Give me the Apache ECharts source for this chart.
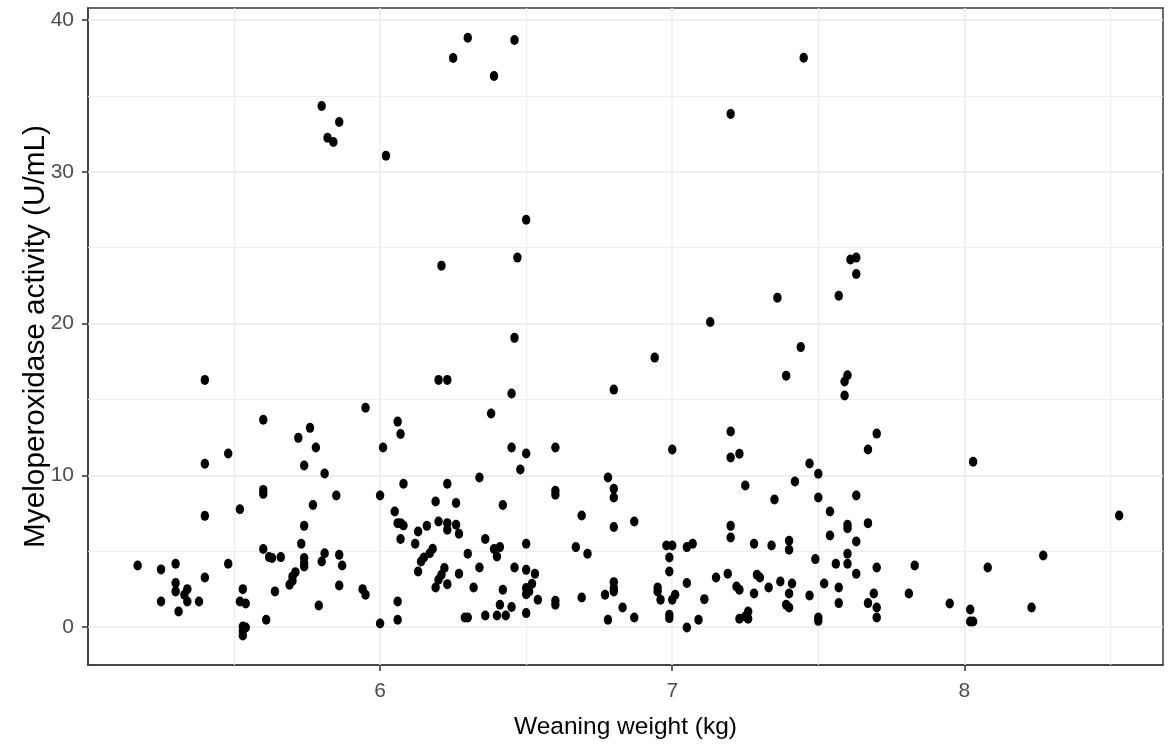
<!DOCTYPE html>
<html>
<head>
<meta charset="utf-8">
<script src="https://cdn.jsdelivr.net/npm/echarts@6/dist/echarts.min.js"></script>
<style>
html,body{margin:0;padding:0;background:#ffffff;}
#chart{width:1173px;height:748px;}
</style>
</head>
<body>
<div id="chart"></div>
<script>
// ---- data ----
const weight = [
  6.30,6.46,6.25,6.39,5.80,5.86,5.82,5.84,6.02,6.50,6.47,6.21,6.46,7.45,7.20,7.63,7.61,7.63,7.36,7.57,7.13,7.44,
  5.40,5.95,5.60,5.76,5.72,5.78,5.48,5.40,5.74,5.81,5.60,5.60,5.85,5.77,
  6.20,6.23,6.45,6.80,6.38,6.06,6.07,6.01,6.45,6.50,6.60,6.48,6.78,6.34,6.08,6.23,6.00,6.60,6.60,6.80,6.80,6.19,6.26,6.42,
  6.94,7.39,7.60,7.59,7.59,7.20,7.70,7.00,7.20,7.23,7.67,7.47,7.50,7.42,7.25,7.35,7.50,7.63,
  8.03,
  5.40,5.52,5.74,5.73,5.60,5.62,5.63,5.66,5.81,5.80,5.74,5.74,5.74,5.86,5.87,5.17,5.25,5.30,5.48,5.40,5.30,5.30,5.34,5.33,
  5.34,5.38,5.25,5.31,5.53,5.52,5.54,5.53,5.54,5.53,5.53,5.64,5.61,5.71,5.70,5.70,5.69,5.79,5.86,5.94,5.95,
  6.05,6.06,6.08,6.07,6.13,6.16,6.20,6.23,6.23,6.26,6.27,6.07,6.12,6.18,6.17,6.15,6.14,6.13,6.30,6.36,6.39,6.41,6.40,6.50,
  6.22,6.21,6.20,6.19,6.23,6.27,6.34,6.32,6.46,6.50,6.53,6.52,6.50,6.50,6.51,6.42,6.54,6.60,6.60,6.41,6.45,6.43,6.40,6.36,
  6.29,6.30,6.50,6.06,6.06,6.00,6.69,6.80,6.67,6.71,6.80,6.80,6.80,6.77,6.69,6.83,6.78,
  6.87,7.54,7.20,7.20,7.28,7.34,7.40,7.40,7.54,7.60,7.60,7.67,7.63,7.60,7.49,7.56,7.60,7.63,7.70,7.52,7.57,7.57,7.69,7.67,
  7.70,7.70,6.98,7.00,7.05,7.07,6.99,6.99,7.05,6.95,6.95,6.96,7.00,7.01,7.11,7.15,7.19,7.29,7.30,7.22,7.23,7.33,7.37,7.41,
  7.40,7.28,7.47,7.39,7.40,7.23,7.25,7.26,7.26,7.50,7.50,6.87,6.99,6.99,7.09,7.05,
  8.53,7.83,8.27,8.08,7.81,7.95,8.02,8.02,8.03,8.23
];
const mpo = [
  38.84,38.69,37.50,36.32,34.34,33.29,32.25,31.97,31.07,26.85,24.35,23.82,19.06,37.52,33.81,24.35,24.22,23.27,21.71,21.84,20.11,18.45,
  16.29,14.45,13.66,13.13,12.47,11.83,11.44,10.76,10.65,10.12,9.04,8.78,8.67,8.05,
  16.29,16.29,15.39,15.65,14.07,13.54,12.73,11.83,11.83,11.44,11.83,10.38,9.86,9.86,9.44,9.44,8.67,8.98,8.72,9.11,8.54,8.27,8.18,8.05,
  17.76,16.57,16.60,16.18,15.26,12.89,12.75,11.70,11.17,11.42,11.70,10.78,10.10,9.59,9.33,8.41,8.54,8.67,
  10.89,
  7.33,7.77,6.67,5.49,5.14,4.61,4.55,4.61,4.87,4.32,4.55,4.22,3.99,4.76,4.06,4.06,3.80,4.17,4.17,3.27,2.90,2.35,2.50,2.13,
  1.69,1.69,1.69,1.03,2.50,1.69,1.55,0.04,-0.03,-0.24,-0.55,2.35,0.48,3.62,3.33,3.05,2.79,1.42,2.74,2.50,2.13,
  7.62,6.85,6.69,6.85,6.30,6.67,6.96,6.85,6.41,6.74,6.15,5.80,5.49,5.16,4.87,4.59,4.32,3.66,4.83,5.80,5.14,5.27,4.65,5.49,
  3.89,3.45,3.12,2.61,2.83,3.51,3.93,2.61,3.93,3.77,3.51,2.85,2.57,2.17,2.35,2.46,1.80,1.73,1.47,1.47,1.32,0.76,0.76,0.76,
  0.63,0.63,0.92,1.69,0.48,0.24,7.35,6.59,5.27,4.83,2.96,2.57,2.35,2.13,1.95,1.29,0.48,
  6.96,7.62,6.67,5.90,5.49,5.38,5.69,5.09,6.04,6.74,6.52,6.85,5.64,4.83,4.48,4.17,4.17,3.51,3.93,2.87,2.61,1.58,2.21,1.58,
  1.29,0.63,5.38,5.38,5.27,5.49,4.59,3.66,2.90,2.61,2.35,1.80,1.80,2.13,1.84,3.27,3.51,3.45,3.27,2.67,2.46,2.61,3.00,2.87,
  2.21,2.21,2.08,1.47,1.29,0.55,0.70,1.03,0.55,0.63,0.41,0.63,0.81,0.59,0.48,-0.03,
  7.35,4.06,4.72,3.93,2.21,1.55,1.16,0.37,0.37,1.29
];
const xTicks = [6, 7, 8];
const yTicks = [0, 10, 20, 30, 40];
const xMinorGrid = [5.5, 6.5, 7.5, 8.5];
const yMinorGrid = [5, 15, 25, 35];
const xRange = [5, 8.68];
const yRange = [-2.5, 40.8];
const xTitle = 'Weaning weight (kg)';
const yTitle = 'Myeloperoxidase activity (U/mL)';

// ---- font fitting ----
const ctx = document.createElement('canvas').getContext('2d');
function textWidth(str, fam, size) { ctx.font = size + 'px ' + fam; return ctx.measureText(str).width; }
function hasFont(name) {
  const s = 'Weaning weight 0123456789 Myeloperoxidase';
  return Math.abs(textWidth(s, 'monospace', 40) - textWidth(s, "'" + name + "', monospace", 40)) > 0.5;
}
const narrow = hasFont('Liberation Sans Narrow');
const hFamily = narrow ? "'Liberation Sans Narrow'" : "'Liberation Sans', Arial";
const vFamily = "'Liberation Sans', Arial";
const fit = (str, fam, target) => 40 * target / textWidth(str, fam, 40);
const xTitleSize = fit(xTitle, hFamily, 223);
const tickSize = narrow ? fit('40', hFamily, 22) : 21;
const yTitleSize = fit(yTitle, vFamily, 423);

const pts = weight.map((w, i) => [w, mpo[i]]);

const gridLines = [];
xTicks.forEach(v => gridLines.push({ xAxis: v, lineStyle: { color: '#EBEBEB', width: 1.5, type: 'solid' } }));
xMinorGrid.forEach(v => gridLines.push({ xAxis: v, lineStyle: { color: '#EEEEEE', width: 1.2, type: 'solid' } }));
yTicks.forEach(v => gridLines.push({ yAxis: v, lineStyle: { color: '#EBEBEB', width: 1.5, type: 'solid' } }));
yMinorGrid.forEach(v => gridLines.push({ yAxis: v, lineStyle: { color: '#EEEEEE', width: 1.2, type: 'solid' } }));

const chart = echarts.init(document.getElementById('chart'), null, { renderer: 'canvas' });
chart.setOption({
  animation: false,
  backgroundColor: '#ffffff',
  grid: {
    left: 88, right: 10, top: 8, bottom: 83,
    show: true, borderColor: '#3a3a3a', borderWidth: 1.5, backgroundColor: 'transparent'
  },
  xAxis: {
    type: 'value', min: xRange[0], max: xRange[1],
    name: xTitle, nameLocation: 'middle', nameGap: 50, nameMoveOverlap: false,
    nameTextStyle: { fontFamily: hFamily, fontSize: xTitleSize, color: '#000' },
    axisLine: { show: true, onZero: false, lineStyle: { color: '#3a3a3a', width: 1.5 } },
    splitLine: { show: false },
    axisTick: { show: true, customValues: xTicks, length: 6, lineStyle: { color: '#333', width: 1.5 } },
    axisLabel: { show: true, customValues: xTicks, margin: 16, fontFamily: hFamily, fontSize: tickSize, color: '#4D4D4D' }
  },
  yAxis: {
    type: 'value', min: yRange[0], max: yRange[1],
    name: yTitle, nameLocation: 'middle', nameGap: 37, nameMoveOverlap: false,
    nameTextStyle: { fontFamily: vFamily, fontSize: yTitleSize, color: '#000' },
    axisLine: { show: true, onZero: false, lineStyle: { color: '#3a3a3a', width: 1.5 } },
    splitLine: { show: false },
    axisTick: { show: true, customValues: yTicks, length: 6, lineStyle: { color: '#333', width: 1.5 } },
    axisLabel: { show: true, customValues: yTicks, margin: 14, fontFamily: hFamily, fontSize: tickSize, color: '#4D4D4D' }
  },
  series: [
    {
      type: 'line', data: [], z: 1, silent: true,
      markLine: { silent: true, symbol: ['none', 'none'], label: { show: false }, animation: false, z: 1, data: gridLines }
    },
    {
      type: 'scatter', z: 10, data: pts,
      symbol: 'path://M0,-1A1,1,0,1,1,0,1A1,1,0,1,1,0,-1Z',
      symbolSize: [8.4, 10],
      itemStyle: { color: '#000000', opacity: 1 }
    }
  ]
});
</script>
</body>
</html>
